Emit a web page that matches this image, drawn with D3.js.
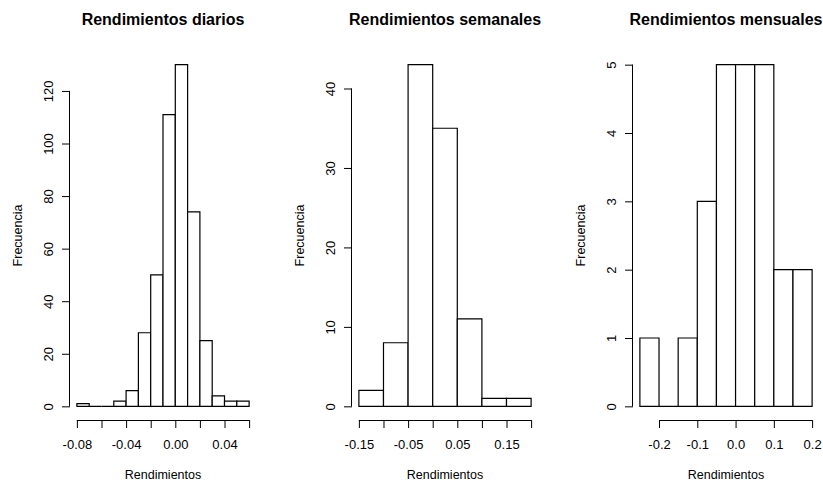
<!DOCTYPE html>
<html>
<head>
<meta charset="utf-8">
<script src="https://cdn.jsdelivr.net/npm/d3@7"></script>
<style>
    body { margin: 0; background: white; }
    svg { display: block; font-family: "Liberation Sans", Arial, sans-serif; }
    .hist-title { font-size: 16px; font-weight: bold; text-anchor: middle; }
    .axis-label { font-size: 12.5px; text-anchor: middle; }
    .axis text { font-size: 13px; fill: black; font-family: "Liberation Sans", Arial, sans-serif; }
    .axis line, .axis-line { stroke: black; stroke-width: 1; }
    .hist-bar { fill: white; stroke: black; stroke-width: 1.2; }
</style>
</head>
<body>
<div class="mainview"></div>
<script>

// Data ////////////////////////////////////

const titles = ["Rendimientos diarios", "Rendimientos semanales", "Rendimientos mensuales"];

const dailyBreaks = [-0.08, -0.07, -0.06, -0.05, -0.04, -0.03, -0.02, -0.01, 0.00, 0.01, 0.02, 0.03, 0.04, 0.05, 0.06];
const dailyCounts = [1, 0, 0, 2, 6, 28, 50, 111, 130, 74, 25, 4, 2, 2];
const dailyXTicks = [-0.08, -0.06, -0.04, -0.02, 0.00, 0.02, 0.04, 0.06];
const dailyXLabels = ["-0.08", "", "-0.04", "", "0.00", "", "0.04", ""];
const dailyYTicks = [0, 20, 40, 60, 80, 100, 120];

const weeklyBreaks = [-0.15, -0.10, -0.05, 0.00, 0.05, 0.10, 0.15, 0.20];
const weeklyCounts = [2, 8, 43, 35, 11, 1, 1];
const weeklyXTicks = [-0.15, -0.10, -0.05, 0.00, 0.05, 0.10, 0.15, 0.20];
const weeklyXLabels = ["-0.15", "", "-0.05", "", "0.05", "", "0.15", ""];
const weeklyYTicks = [0, 10, 20, 30, 40];

const monthlyBreaks = [-0.25, -0.20, -0.15, -0.10, -0.05, 0.00, 0.05, 0.10, 0.15, 0.20];
const monthlyCounts = [1, 0, 1, 3, 5, 5, 5, 2, 2];
const monthlyXTicks = [-0.2, -0.1, 0.0, 0.1, 0.2];
const monthlyXLabels = ["-0.2", "-0.1", "0.0", "0.1", "0.2"];
const monthlyYTicks = [0, 1, 2, 3, 4, 5];

// Layout ////////////////////////////////////

const dim = { width: 823, height: 484 };
const plot = { top: 51, bottom: 420, width: 186 };
const lefts = [70, 352, 633];
const tickLen = 8;

const svg = d3.select(".mainview").append("svg")
    .attr("width", dim.width)
    .attr("height", dim.height);

function pad(extent) {
    const d = (extent[1] - extent[0]) * 0.04;
    return [extent[0] - d, extent[1] + d];
}

function drawHist(svg, left, title, breaks, counts, xTicks, xLabels, yTicks) {

    const bins = counts.map((n, i) => ({ x0: breaks[i], x1: breaks[i + 1], n: n }));

    const x = d3.scaleLinear()
        .domain(pad([breaks[0], breaks[breaks.length - 1]]))
        .range([left, left + plot.width]);

    const y = d3.scaleLinear()
        .domain(pad([0, d3.max(counts)]))
        .range([plot.bottom, plot.top]);

    const g = svg.append("g");

    // bars (paths, so empty bins still show as a flat line like R does)

    g.append("g")
        .selectAll("path")
        .data(bins)
        .join("path")
        .attr("class", "hist-bar")
        .attr("d", d => `M${ x(d.x0) },${ y(0) }V${ y(d.n) }H${ x(d.x1) }V${ y(0) }Z`);

    // x axis

    const xAxis = d3.axisBottom(x)
        .tickValues(xTicks)
        .tickFormat((d, i) => xLabels[i])
        .tickSize(tickLen)
        .tickPadding(12);

    g.append("g")
        .attr("class", "axis x")
        .attr("transform", `translate(0, ${ plot.bottom })`)
        .call(xAxis)
        .call(a => a.select(".domain").remove());

    g.append("path")
        .attr("class", "axis-line")
        .attr("d", `M${ x(xTicks[0]) },${ plot.bottom + 0.5 }H${ x(xTicks[xTicks.length - 1]) }`);

    // y axis

    const yAxis = d3.axisLeft(y)
        .tickValues(yTicks)
        .tickFormat(d3.format("d"))
        .tickSize(tickLen);

    g.append("g")
        .attr("class", "axis y")
        .attr("transform", `translate(${ left }, 0)`)
        .call(yAxis)
        .call(a => a.select(".domain").remove())
        .call(a => a.selectAll(".tick text")
            .attr("x", 0)
            .attr("y", -17)
            .attr("dy", null)
            .attr("text-anchor", "middle")
            .attr("transform", "rotate(-90)"));

    g.append("path")
        .attr("class", "axis-line")
        .attr("d", `M${ left - 0.5 },${ y(yTicks[0]) }V${ y(yTicks[yTicks.length - 1]) }`);

    // labels

    g.append("text")
        .attr("class", "hist-title")
        .attr("x", left + plot.width / 2)
        .attr("y", 25)
        .text(title);

    g.append("text")
        .attr("class", "axis-label")
        .attr("x", left + plot.width / 2)
        .attr("y", 479)
        .text("Rendimientos");

    g.append("text")
        .attr("class", "axis-label")
        .attr("transform", `translate(${ left - 48 }, ${ (plot.top + plot.bottom) / 2 }) rotate(-90)`)
        .text("Frecuencia");
}

drawHist(svg, lefts[0], titles[0], dailyBreaks, dailyCounts, dailyXTicks, dailyXLabels, dailyYTicks);
drawHist(svg, lefts[1], titles[1], weeklyBreaks, weeklyCounts, weeklyXTicks, weeklyXLabels, weeklyYTicks);
drawHist(svg, lefts[2], titles[2], monthlyBreaks, monthlyCounts, monthlyXTicks, monthlyXLabels, monthlyYTicks);

</script>
</body>
</html>
